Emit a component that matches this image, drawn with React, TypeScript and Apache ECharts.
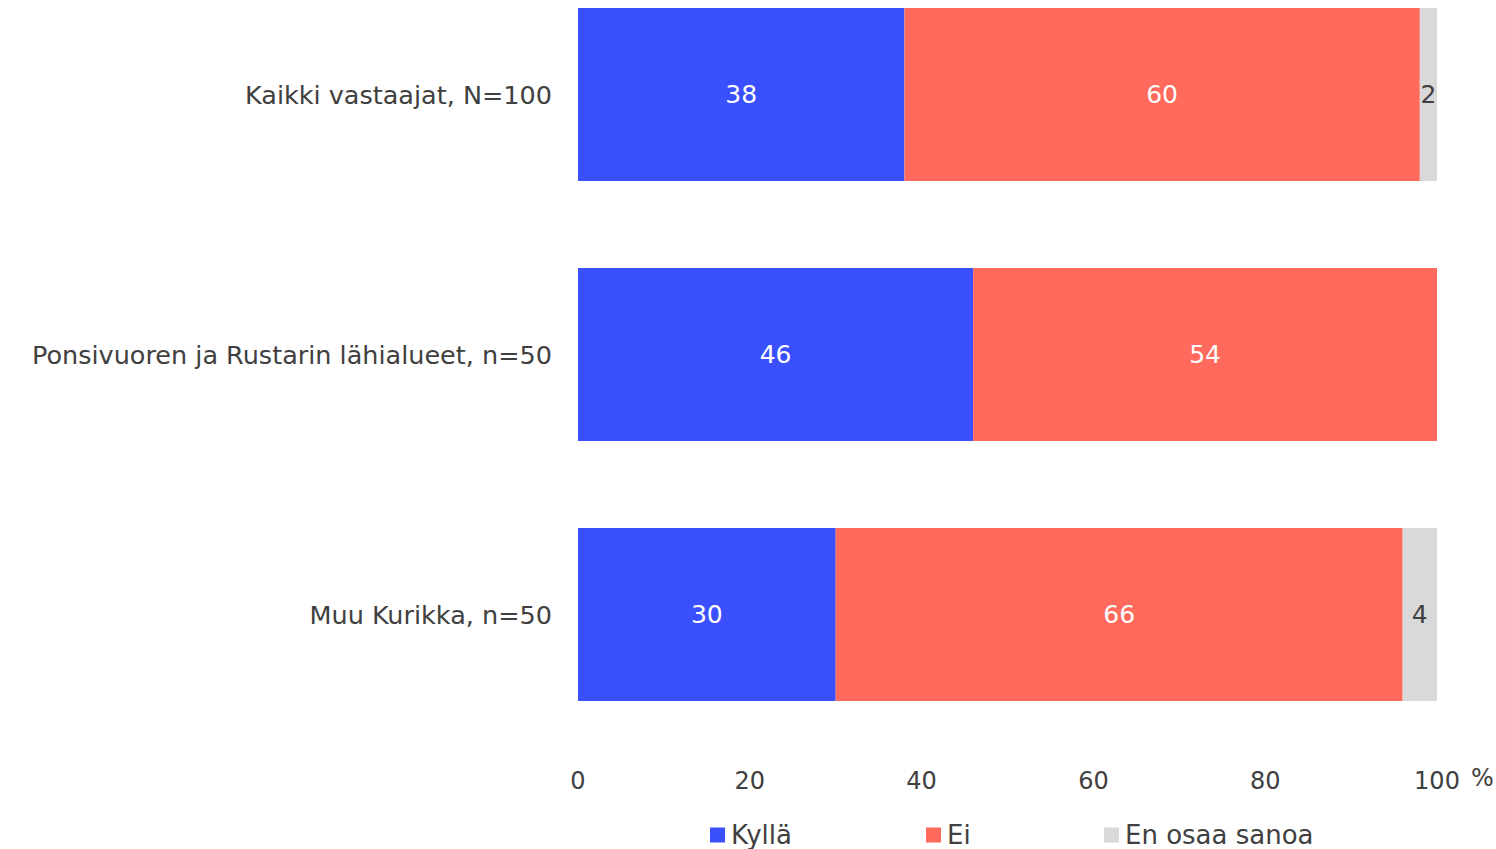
import React, { useEffect, useRef } from "react";
import * as echarts from "echarts";

const categories = [
  "Kaikki vastaajat, N=100",
  "Ponsivuoren ja Rustarin lähialueet, n=50",
  "Muu Kurikka, n=50",
];
const kylla = [38, 46, 30];
const ei = [60, 54, 66];
const enOsaa = [2, 0, 4];
const seriesNames = ["Kyllä", "Ei", "En osaa sanoa"];
const colors = ["#3A50FF", "#FF6A5C", "#D9D9D9"];
const legendLefts = [710, 926, 1104];

const FONT = "'DejaVu Sans', sans-serif";
const TEXT = "#404040";

export default function App() {
  const ref = useRef<HTMLDivElement>(null);
  useEffect(() => {
    if (!ref.current) return;
    const chart = echarts.init(ref.current, null, { renderer: "svg" });
    const mk = (name: string, data: number[], color: string, labelColor: string) => ({
      name,
      type: "bar",
      stack: "total",
      data,
      barWidth: 173,
      clip: false,
      itemStyle: { color },
      label: {
        show: true,
        position: "inside",
        color: labelColor,
        fontSize: 25,
        fontFamily: FONT,
        formatter: (p: any) => (p.value ? String(p.value) : ""),
      },
      emphasis: { disabled: true },
    });
    chart.setOption({
      animation: false,
      textStyle: { fontFamily: FONT },
      grid: { left: 578, right: 59, top: 94.5, height: 520, containLabel: false },
      xAxis: {
        type: "value",
        min: 0,
        max: 100,
        interval: 20,
        axisLine: { show: false },
        axisTick: { show: false },
        splitLine: { show: false },
        axisLabel: { color: TEXT, fontSize: 24, fontFamily: FONT, margin: 154 },
      },
      yAxis: {
        type: "category",
        inverse: true,
        boundaryGap: false,
        data: categories,
        axisLine: { show: false },
        axisTick: { show: false },
        axisLabel: { color: TEXT, fontSize: 25.5, fontFamily: FONT, margin: 26 },
      },
      legend: seriesNames.map((n, i) => ({
        left: legendLefts[i],
        top: 822,
        padding: 0,
        itemWidth: 15,
        itemHeight: 15,
        icon: "rect",
        textStyle: { color: TEXT, fontSize: 26, fontFamily: FONT, padding: [0, 0, 0, 1] },
        data: [n],
      })),
      graphic: [
        {
          type: "text",
          left: 1471,
          top: 766,
          style: { text: "%", fill: TEXT, fontSize: 24, fontFamily: FONT },
        },
      ],
      series: [
        mk(seriesNames[0], kylla, colors[0], "#FFFFFF"),
        mk(seriesNames[1], ei, colors[1], "#FFFFFF"),
        mk(seriesNames[2], enOsaa, colors[2], TEXT),
      ],
    });
    return () => chart.dispose();
  }, []);
  return (
    <div
      ref={ref}
      style={{ position: "absolute", left: 0, top: 0, width: 1496, height: 849 }}
    />
  );
}
